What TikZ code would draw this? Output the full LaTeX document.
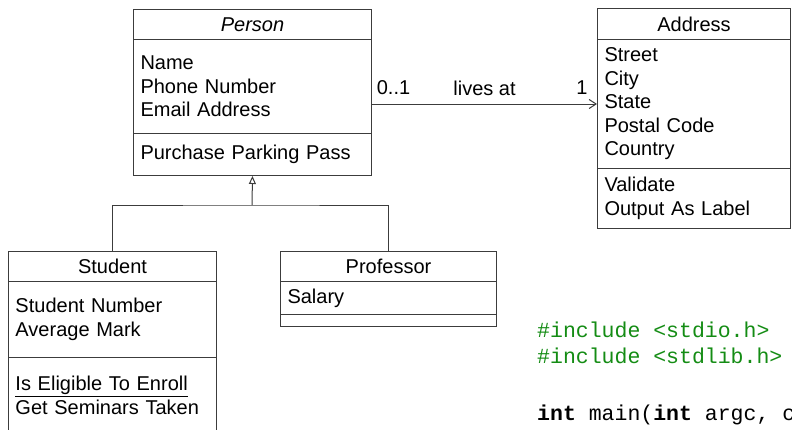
\documentclass[tikz,border=0pt]{standalone}
\usepackage{fontspec}
\setmainfont{Liberation Sans}
\setmonofont{Liberation Mono}
\usetikzlibrary{arrows.meta}
\definecolor{umlline}{RGB}{60,60,60}
\definecolor{codegreen}{RGB}{20,140,20}

\begin{document}
\begin{tikzpicture}[x=1pt, y=-1pt,
    classtitle/.style={draw=umlline, line width=1pt, anchor=north west, inner xsep=7pt, inner ysep=0pt, align=center, font=\fontsize{20}{23.5}\selectfont},
    classpart/.style={draw=umlline, line width=1pt, anchor=north west, inner xsep=7pt, inner ysep=0pt, align=left, font=\fontsize{20}{23.5}\selectfont},
    mult/.style={font=\fontsize{20}{23.5}\selectfont},
    code/.style={anchor=base west, inner sep=0pt, font=\fontsize{21.5}{24}\selectfont\ttfamily}]
    \useasboundingbox (0,0) rectangle (792,429);
    \clip (0,0) rectangle (792,429);

    % Person class
    \node[classtitle, text width=224pt, minimum height=30pt] (person) at (133,9) {\textit{Person}};
    \node[classpart, text width=224pt, minimum height=94pt] (person-attr) at (133,39) {Name\\Phone Number\\Email Address};
    \node[classpart, text width=224pt, minimum height=42pt] (person-ops) at (133,133) {Purchase Parking Pass};

    % Address class
    \node[classtitle, text width=179pt, minimum height=31pt] (address) at (597,8) {Address};
    \node[classpart, text width=179pt, minimum height=129pt] (address-attr) at (597,39) {Street\\City\\State\\Postal Code\\Country};
    \node[classpart, text width=179pt, minimum height=60pt] (address-ops) at (597,168) {Validate\\Output As Label};

    % Student class
    \node[classtitle, text width=194pt, minimum height=30pt] (student) at (8,251) {Student};
    \node[classpart, text width=194pt, minimum height=76pt] (student-attr) at (8,281) {Student Number\\Average Mark};
    \node[classpart, text width=194pt, minimum height=76pt] (student-ops) at (8,357) {\underline{Is Eligible To Enroll}\\Get Seminars Taken};

    % Professor class
    \node[classtitle, text width=202pt, minimum height=30pt] (professor) at (280,251) {Professor};
    \node[classpart, text width=202pt, minimum height=33pt] (professor-attr) at (280,281) {Salary};
    \node[classpart, text width=202pt, minimum height=12pt] (professor-ops) at (280,314) {};

    % Association
    \draw[umlline, line width=1pt, -{Straight Barb[length=7pt, width=9pt]}] (person-attr.east |- address-attr.west) -- (address-attr.west);
    \node[mult] (mult-person) at (393.5,88) {0..1};
    \node[mult] (assoc-name) at (484.5,88) {lives at};
    \node[mult] (mult-address) at (582,88) {1};

    % Generalization
    \coordinate (hub) at (252,205);
    \draw[umlline, line width=1pt] (student.north) |- (hub) -| (professor.north);
    \draw[umlline, line width=1pt, -{Triangle[open, length=8pt, width=7pt]}] (hub) -- (person-ops.south);

    % Code snippet
    \node[code, codegreen] (inc-stdio) at (537,337) {\#include <stdio.h>};
    \node[code, codegreen] (inc-stdlib) at (537,363) {\#include <stdlib.h>};
    \node[code] (main-sig) at (537,420) {\textbf{int} main(\textbf{int} argc, c};
\end{tikzpicture}
\end{document}
